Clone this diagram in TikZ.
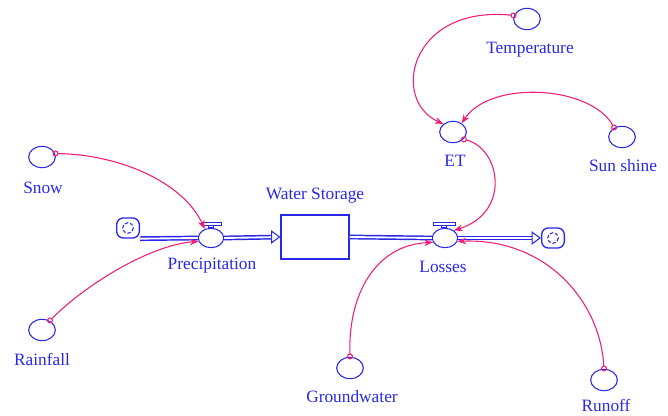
\documentclass[tikz,border=0pt]{standalone}
\usepackage{fontspec}
\setmainfont{Liberation Serif}
\usetikzlibrary{arrows.meta,shapes.geometric}

\definecolor{vblue}{RGB}{40,40,230}
\definecolor{vpink}{RGB}{240,30,120}

\tikzset{
  aux/.style={ellipse,draw=vblue,line width=0.8pt,minimum width=20pt,minimum height=16pt,inner sep=0pt},
  valvecirc/.style={aux,minimum width=19pt,minimum height=14.5pt},
  cloudbox/.style={draw=vblue,line width=1pt,rounded corners=5pt,minimum width=17pt,minimum height=15pt,inner sep=0pt},
  stock/.style={draw=vblue,line width=0.8pt,minimum width=51pt,minimum height=33pt},
  lbl/.style={text=vblue,font=\fontsize{13}{15}\selectfont,inner sep=0pt},
  pipe/.style={draw=vblue,line width=1.1pt,double=white,double distance=1.4pt},
  flowtip/.style={draw=vblue,line width=0.8pt,-{Triangle[open,length=7pt,width=10pt,fill=white]}},
  link/.style={draw=vpink,line width=0.8pt,shorten <=-2pt,{Circle[open,length=4.5pt]}-{Stealth[length=6.5pt,width=5pt]}},
  swirl/.style={draw=vblue,line width=0.8pt,dash pattern=on 2.5pt off 1.5pt},
}

\begin{document}
\begin{tikzpicture}[x=0.75pt,y=0.75pt,yscale=-1,xscale=1]
        \useasboundingbox (0,0) rectangle (668,416);

        % stock, flows and clouds
        \node [cloudbox] (cloudL) at (128,228) {};
        \draw [swirl] (cloudL) circle [radius=4pt];
        \node [valvecirc] (prec) at (211,238) {};
        \node [stock] (store) at (315,237) {};
        \node [valvecirc] (loss) at (445,238) {};
        \node [cloudbox] (cloudR) at (553,238) {};
        \draw [swirl] (cloudR) circle [radius=4pt];

        \draw [pipe] (cloudL.south east) -- (prec.west);
        \draw [pipe, shorten >=7pt] (prec.east) -- (store.west);
        \draw [flowtip] (store.west) ++(-8,0) -- (store.west);
        \draw [pipe] (store.east) -- (loss.west);
        \draw [pipe, shorten >=7pt] (loss.east) -- (cloudR.west);
        \draw [flowtip] (cloudR.west) ++(-8,0) -- (cloudR.west);

        % valve handles
        \draw [vblue, line width=0.7pt] (prec.north) ++(-10,-2) rectangle ++(20,-3);
        \draw [vblue, line width=0.7pt] (prec.north) ++(-3,0) rectangle ++(5,-2);
        \draw [vblue, line width=0.7pt] (loss.north) ++(-12,-2) rectangle ++(22,-3);
        \draw [vblue, line width=0.7pt] (loss.north) ++(-4,0) rectangle ++(5,-2);

        % converters
        \node [aux] (snow) at (42,157) {};
        \node [aux] (rain) at (42,330) {};
        \node [aux] (et) at (453,132) {};
        \node [aux] (temp) at (527,19) {};
        \node [aux] (sun) at (622,137) {};
        \node [aux] (gw) at (350,368) {};
        \node [aux] (runoff) at (604,380) {};

        % links
        \draw [link] (snow.15) .. controls (125,155) and (185,185) .. (prec.125);
        \draw [link] (rain.50) .. controls (85,285) and (150,245) .. (prec.195);
        \draw [link] (temp.165) .. controls (410,5) and (390,100) .. (et.140);
        \draw [link] (sun.130) .. controls (590,85) and (490,80) .. (et.45);
        \draw [link] (et.-35) .. controls (500,148) and (512,212) .. (loss.40);
        \draw [link] (gw.north) .. controls (348,295) and (375,245) .. (loss.200);
        \draw [link] (runoff.north) .. controls (600,300) and (545,238) .. (loss.-15);

        % labels
        \node [lbl] (snowlbl) at (43,188) {Snow};
        \node [lbl] (rainlbl) at (42,359) {Rainfall};
        \node [lbl] (preclbl) at (212,266) {Precipitation};
        \node [lbl] (storelbl) at (315,196) {Water Storage};
        \node [lbl] (losslbl) at (443,267) {Losses};
        \node [lbl] (etlbl) at (455,161) {ET};
        \node [lbl] (templbl) at (530,50) {Temperature};
        \node [lbl] (sunlbl) at (623,166) {Sun shine};
        \node [lbl] (gwlbl) at (352,397) {Groundwater};
        \node [lbl, anchor=south] (runofflbl) at (606,412) {Runoff};

\end{tikzpicture}
\end{document}
